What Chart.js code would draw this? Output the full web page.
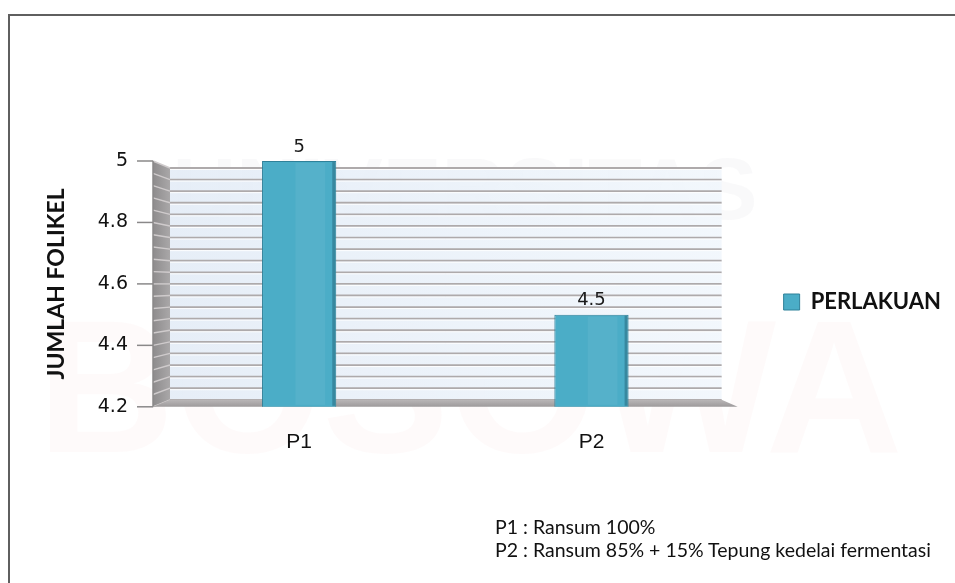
<!DOCTYPE html>
<html>
<head>
<meta charset="utf-8">
<script src="https://cdn.jsdelivr.net/npm/chart.js@4.4.1/dist/chart.umd.min.js"></script>
<style>
  html, body { margin: 0; padding: 0; background: #ffffff; }
  #wrap { position: relative; width: 955px; height: 583px; overflow: hidden; }
  #frame { position: absolute; left: 8px; top: 14px; width: 2000px; height: 2000px;
           border-left: 2px solid #5f5f5f; border-top: 2px solid #5f5f5f; pointer-events: none; }
  canvas { position: absolute; left: 0; top: 0; }
  .note { position: absolute; left: 495px; font-family: Lato, "Open Sans", sans-serif;
          font-size: 19.5px; color: #111; white-space: nowrap; line-height: 23px; }
</style>
</head>
<body>
<div id="wrap">
  <canvas id="c" width="955" height="583"></canvas>
  <div id="frame"></div>
  <div class="note" style="top:515px">P1 : Ransum 100%</div>
  <div class="note" style="top:538px">P2 : Ransum 85% + 15% Tepung kedelai fermentasi</div>
</div>
<script>
// ---- data ----
const categories = ['P1', 'P2'];
const seriesName = 'PERLAKUAN';
const seriesValues = [5, 4.5];
const yAxisTitle = 'JUMLAH FOLIKEL';
const yMin = 4.2;
const yMax = 5;
const yStep = 0.04;       // minor gridline interval
const yLabelStep = 0.2;   // labelled ticks

const DEPTH_X = 17, DEPTH_Y = 7, WALL_RIGHT_EXT = 16;

const isMajor = v => Math.abs(v / yLabelStep - Math.round(v / yLabelStep)) < 1e-6;

const decor = {
  id: 'decor',
  beforeDraw(chart) {
    const ctx = chart.ctx;
    ctx.save();
    ctx.textAlign = 'center';
    ctx.textBaseline = 'middle';
    ctx.font = 'bold 88px "Liberation Sans", Arial, sans-serif';
    ctx.fillStyle = 'rgba(190,190,200,0.09)';
    ctx.fillText('UNIVERSITAS', 465, 195);
    ctx.font = 'bold 190px "Liberation Sans", Arial, sans-serif';
    ctx.fillStyle = 'rgba(235,120,120,0.04)';
    ctx.fillText('BOSOWA', 470, 400);
    ctx.restore();
  },
  afterLayout(chart) {
    const lg = chart.legend;
    if (lg) {
      const d = 302 - (lg.top + lg.bottom) / 2;
      lg.top += d; lg.bottom += d;
    }
  },
  beforeDatasetsDraw(chart) {
    const ctx = chart.ctx;
    const ys = chart.scales.y;
    const a = chart.chartArea;
    const L = a.left, T = a.top, B = a.bottom, R = a.right - WALL_RIGHT_EXT;
    const h = B - T;
    const backY = y => T + DEPTH_Y + (y - T) * (h - 2 * DEPTH_Y) / h;
    ctx.save();
    // back wall
    const g = ctx.createLinearGradient(L + DEPTH_X, 0, R, 0);
    g.addColorStop(0, 'rgba(226,235,246,0.85)');
    g.addColorStop(1, 'rgba(240,246,252,0.85)');
    ctx.fillStyle = g;
    ctx.fillRect(L + DEPTH_X, T + DEPTH_Y, R - L - DEPTH_X, h - 2 * DEPTH_Y);
    // gridlines on back wall
    ys.ticks.forEach(t => {
      const y = backY(ys.getPixelForValue(t.value));
      ctx.strokeStyle = '#aeaaab';
      ctx.lineWidth = 1.8;
      ctx.beginPath(); ctx.moveTo(L + DEPTH_X, y); ctx.lineTo(R, y); ctx.stroke();
      ctx.strokeStyle = 'rgba(255,255,255,0.9)';
      ctx.lineWidth = 1;
      ctx.beginPath(); ctx.moveTo(L + DEPTH_X, y + 1.5); ctx.lineTo(R, y + 1.5); ctx.stroke();
    });
    // left side wall
    const gw = ctx.createLinearGradient(L, 0, L + DEPTH_X, 0);
    gw.addColorStop(0, '#8e8c8d');
    gw.addColorStop(1, '#a9a7a8');
    ctx.fillStyle = gw;
    ctx.beginPath();
    ctx.moveTo(L, T); ctx.lineTo(L + DEPTH_X, T + DEPTH_Y);
    ctx.lineTo(L + DEPTH_X, B - DEPTH_Y); ctx.lineTo(L, B); ctx.closePath(); ctx.fill();
    ys.ticks.forEach(t => {
      const y = ys.getPixelForValue(t.value);
      ctx.strokeStyle = '#cfcbcc';
      ctx.lineWidth = 1.4;
      ctx.beginPath(); ctx.moveTo(L, y); ctx.lineTo(L + DEPTH_X, backY(y)); ctx.stroke();
    });
    // floor
    const gf = ctx.createLinearGradient(0, B - DEPTH_Y, 0, B);
    gf.addColorStop(0, '#b9b6b7');
    gf.addColorStop(1, '#9d9a9b');
    ctx.fillStyle = gf;
    ctx.beginPath();
    ctx.moveTo(L, B); ctx.lineTo(L + DEPTH_X, B - DEPTH_Y);
    ctx.lineTo(R, B - DEPTH_Y); ctx.lineTo(R + WALL_RIGHT_EXT, B); ctx.closePath(); ctx.fill();
    // front axis line + major tick marks
    ctx.strokeStyle = '#8a8889';
    ctx.lineWidth = 1.5;
    ctx.beginPath(); ctx.moveTo(L, T); ctx.lineTo(L, B); ctx.stroke();
    ys.ticks.forEach(t => {
      if (!isMajor(t.value)) return;
      const y = ys.getPixelForValue(t.value);
      ctx.beginPath(); ctx.moveTo(L - 16, y); ctx.lineTo(L, y); ctx.stroke();
    });
    ctx.restore();
  },
  afterDatasetsDraw(chart) {
    const ctx = chart.ctx;
    const meta = chart.getDatasetMeta(0);
    const bottom = chart.chartArea.bottom;
    ctx.save();
    meta.data.forEach((bar, i) => {
      const x0 = bar.x - bar.width / 2, x1 = bar.x + bar.width / 2;
      const base = Math.min(bar.base, bottom);
      // shaded right face
      ctx.fillStyle = 'rgba(30,90,110,0.45)';
      ctx.fillRect(x1 - 4, bar.y + 1, 3, base - bar.y - 2);
      // lighter centre sheen
      ctx.fillStyle = 'rgba(255,255,255,0.06)';
      ctx.fillRect(x0 + bar.width * 0.45, bar.y + 2, bar.width * 0.4, base - bar.y - 4);
      // value label
      ctx.fillStyle = '#1a1a1a';
      ctx.font = '18px "DejaVu Sans", sans-serif';
      ctx.textAlign = 'center';
      ctx.textBaseline = 'bottom';
      ctx.fillText(String(seriesValues[i]), bar.x, bar.y - 5);
    });
    ctx.restore();
  }
};

new Chart(document.getElementById('c'), {
  type: 'bar',
  data: {
    labels: categories,
    datasets: [{
      label: seriesName,
      data: seriesValues,
      backgroundColor: '#4badc7',
      borderColor: '#2f8199',
      borderWidth: 1,
      barPercentage: 0.254,
      categoryPercentage: 1.0
    }]
  },
  options: {
    responsive: false,
    devicePixelRatio: 1,
    animation: false,
    layout: { padding: { top: 161, left: 0, right: 4, bottom: 105 } },
    plugins: {
      legend: {
        position: 'right',
        fullSize: false,
        labels: {
          boxWidth: 16, boxHeight: 16, padding: 46,
          color: '#111',
          font: { family: 'Lato', size: 22, weight: 'bold' }
        }
      },
      tooltip: { enabled: false },
      title: { display: false }
    },
    scales: {
      x: {
        grid: { display: false, drawTicks: false },
        border: { display: false },
        ticks: { padding: 23, color: '#111', font: { family: '"Liberation Sans", Arial, sans-serif', size: 21 } }
      },
      y: {
        min: yMin, max: yMax,
        grid: { display: false, drawTicks: false },
        border: { display: false },
        afterFit: s => { s.width = 153; },
        ticks: {
          stepSize: yStep, maxTicksLimit: 100, autoSkip: false, padding: 25,
          color: '#111',
          font: { family: '"DejaVu Sans", sans-serif', size: 19 },
          callback: v => isMajor(v) ? String(Math.round(v * 10) / 10) : ''
        },
        title: {
          display: true, text: yAxisTitle, color: '#111',
          padding: { top: 43, bottom: 0 },
          font: { family: 'Lato', size: 23, weight: 'bold' }
        }
      }
    }
  },
  plugins: [decor]
});
</script>
</body>
</html>
